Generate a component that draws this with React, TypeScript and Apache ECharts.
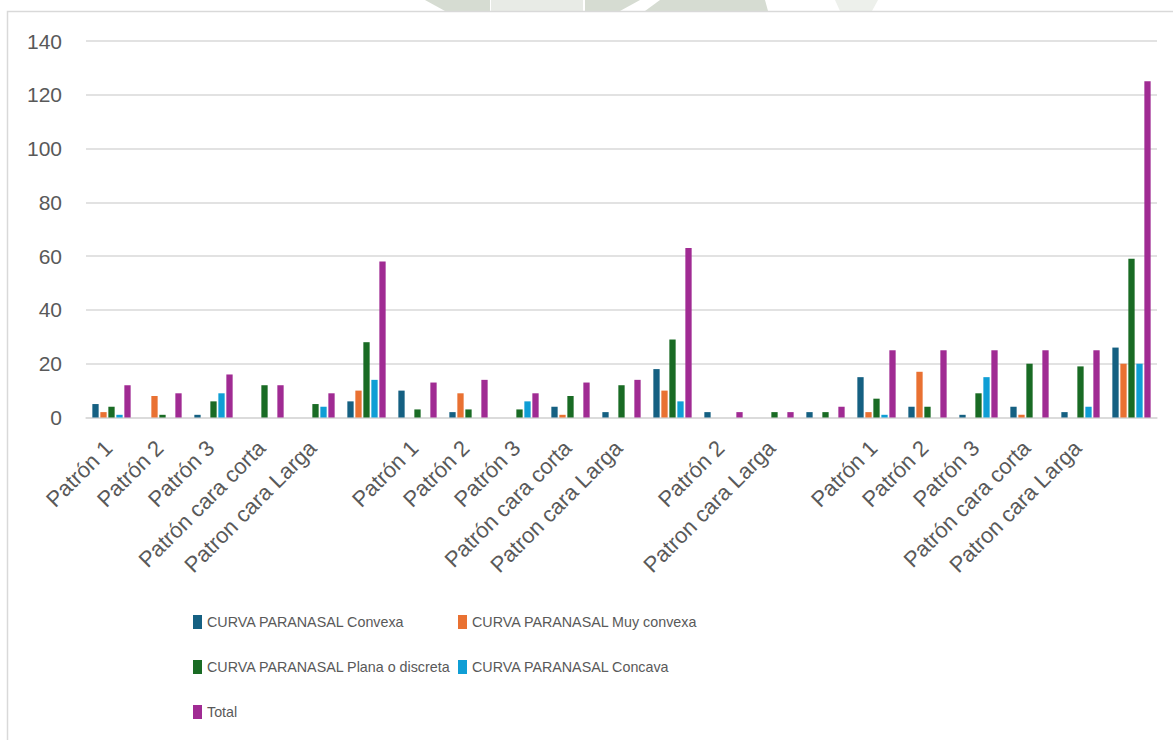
import React, { useEffect, useRef } from 'react';
import * as echarts from 'echarts';

const categories = [
  'Patrón 1', 'Patrón 2', 'Patrón 3', 'Patrón cara corta', 'Patron cara Larga', '',
  'Patrón 1', 'Patrón 2', 'Patrón 3', 'Patrón cara corta', 'Patron cara Larga', '',
  'Patrón 2', 'Patron cara Larga', '',
  'Patrón 1', 'Patrón 2', 'Patrón 3', 'Patrón cara corta', 'Patron cara Larga', '',
];
const convexa = [5, 0, 1, 0, 0, 6, 10, 2, 0, 4, 2, 18, 2, 0, 2, 15, 4, 1, 4, 2, 26];
const muyConvexa = [2, 8, 0, 0, 0, 10, 0, 9, 0, 1, 0, 10, 0, 0, 0, 2, 17, 0, 1, 0, 20];
const plana = [4, 1, 6, 12, 5, 28, 3, 3, 3, 8, 12, 29, 0, 2, 2, 7, 4, 9, 20, 19, 59];
const concava = [1, 0, 9, 0, 4, 14, 0, 0, 6, 0, 0, 6, 0, 0, 0, 1, 0, 15, 0, 4, 20];
const total = [12, 9, 16, 12, 9, 58, 13, 14, 9, 13, 14, 63, 2, 2, 4, 25, 25, 25, 25, 25, 125];

const seriesNames = [
  'CURVA PARANASAL Convexa',
  'CURVA PARANASAL Muy convexa',
  'CURVA PARANASAL Plana o discreta',
  'CURVA PARANASAL Concava',
  'Total',
];
const seriesValues = [convexa, muyConvexa, plana, concava, total];
const colors = ['#156082', '#E97132', '#196B24', '#0F9ED5', '#A02B93'];

const FONT = '"Liberation Sans", Arial, sans-serif';
const TEXT = '#595959';

export default function App() {
  const ref = useRef<HTMLDivElement>(null);
  useEffect(() => {
    if (!ref.current) return;
    const chart = echarts.init(ref.current, undefined, { renderer: 'svg' });
    const legendPos = [
      { left: 193, top: 615 },
      { left: 458, top: 615 },
      { left: 193, top: 660 },
      { left: 458, top: 660 },
      { left: 193, top: 705 },
    ];
    const wm = '#d6dcd2';
    chart.setOption({
      animation: false,
      backgroundColor: '#ffffff',
      textStyle: { fontFamily: FONT },
      graphic: [
        // faint watermark strip above the chart frame
        { type: 'polygon', silent: true, z: -20, shape: { points: [[425, 0], [490, 0], [490, 11], [445, 11]] }, style: { fill: wm } },
        { type: 'rect', silent: true, z: -20, shape: { x: 491, y: 0, width: 92, height: 11 }, style: { fill: '#e8ebe6' } },
        { type: 'polygon', silent: true, z: -20, shape: { points: [[585, 0], [640, 0], [620, 11], [585, 11]] }, style: { fill: wm } },
        { type: 'polygon', silent: true, z: -20, shape: { points: [[660, 0], [765, 0], [768, 11], [645, 11]] }, style: { fill: wm } },
        { type: 'polygon', silent: true, z: -20, shape: { points: [[835, 0], [878, 0], [872, 11], [840, 11]] }, style: { fill: '#edf0eb' } },
        {
          type: 'rect',
          shape: { x: 7.5, y: 11.5, width: 1180, height: 760 },
          style: { fill: '#ffffff', stroke: '#d9d9d9', lineWidth: 1.5 },
          silent: true,
          z: -10,
        },
      ],
      grid: {
        left: 86,
        right: 16,
        top: 41,
        bottom: 322.5,
        containLabel: false,
        outerBoundsMode: 'none',
      },
      legend: seriesNames.map((n, i) => ({
        data: [n],
        left: legendPos[i].left,
        top: legendPos[i].top,
        padding: 0,
        itemGap: 0,
        itemWidth: 9,
        itemHeight: 14,
        icon: 'rect',
        selectedMode: false,
        textStyle: { fontSize: 14.3, color: TEXT, fontFamily: FONT, lineHeight: 14 },
      })),
      xAxis: {
        type: 'category',
        data: categories,
        axisTick: { show: false },
        axisLine: { lineStyle: { color: '#d9d9d9', width: 1.5 } },
        axisLabel: {
          interval: 0,
          rotate: 45,
          fontSize: 22,
          color: TEXT,
          fontFamily: FONT,
          margin: 24,
          padding: [0, 4, 0, 0],
        },
      },
      yAxis: {
        type: 'value',
        min: 0,
        max: 140,
        interval: 20,
        axisLine: { show: false },
        axisTick: { show: false },
        splitLine: { lineStyle: { color: '#d9d9d9', width: 1.5 } },
        axisLabel: { fontSize: 21, color: TEXT, fontFamily: FONT, margin: 24 },
      },
      series: seriesNames.map((n, i) => ({
        name: n,
        type: 'bar',
        data: seriesValues[i],
        barWidth: 6.3,
        barGap: '27%',
        itemStyle: { color: colors[i] },
      })),
    });
    return () => chart.dispose();
  }, []);
  return (
    <div
      ref={ref}
      style={{ position: 'fixed', left: 0, top: 0, width: 1173, height: 740 }}
    />
  );
}
